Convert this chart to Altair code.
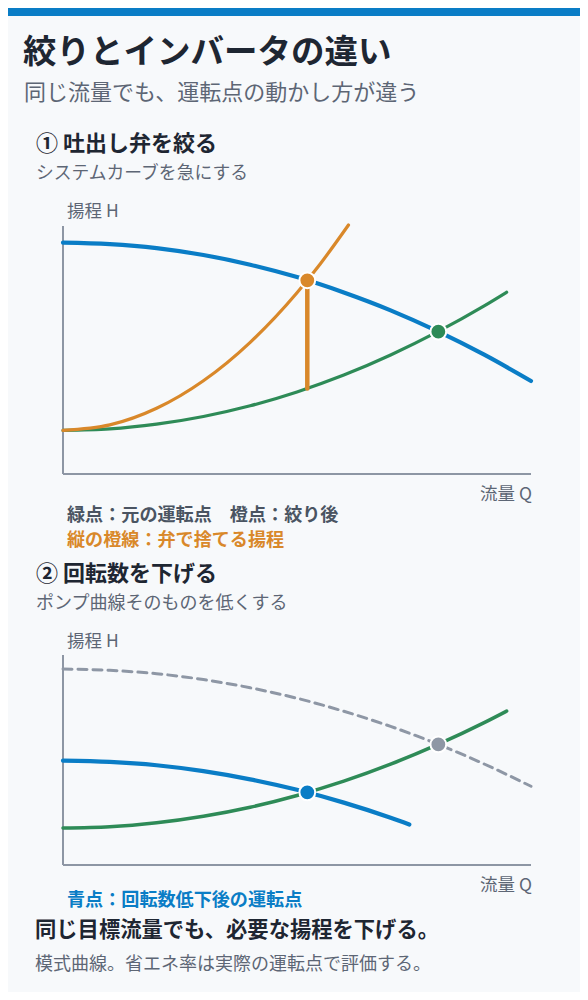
import altair as alt
import pandas as pd

# ---------------- data (schematic units 0-100) ----------------
PUMP_Q = [0, 10, 20, 30, 40, 50, 60, 70, 80, 90, 100]
PUMP_H = [93.3, 92.7, 91.1, 88.3, 84.4, 79.4, 73.2, 66.0, 57.6, 48.1, 37.5]

SYS_Q = [0, 10, 20, 30, 40, 50, 60, 70, 80, 90, 94.8]
SYS_H = [17.6, 18.2, 20.1, 23.2, 27.5, 33.1, 39.9, 48.0, 57.3, 67.8, 73.3]

THROTTLE_Q = [0, 10, 20, 30, 40, 50, 55, 61]
THROTTLE_H = [17.6, 19.8, 26.5, 37.6, 53.1, 73.1, 84.8, 100.4]

REDUCED_Q = [0, 10, 20, 30, 40, 50, 60, 70, 74]
REDUCED_H = [49.7, 49.1, 47.5, 44.7, 40.8, 35.8, 29.7, 22.5, 19.3]

ORIG_POINT = [80.2, 57.4]        # green point (original operating point)
THROTTLE_POINT = [52.2, 78.1]    # orange point (after throttling)
THROTTLE_LOSS = [52.2, 34.5, 78.1]  # q, h from, h to (head wasted by valve)
REDUCED_POINT = [52.2, 34.6]     # blue point (after speed reduction)

AXIS_MAX = [100, 100]

TITLE = "絞りとインバータの違い"
SUBTITLE = "同じ流量でも、運転点の動かし方が違う"
SEC1 = "① 吐出し弁を絞る"
SEC1_SUB = "システムカーブを急にする"
SEC2 = "② 回転数を下げる"
SEC2_SUB = "ポンプ曲線そのものを低くする"
Y_LABEL = "揚程 H"
X_LABEL = "流量 Q"
NOTE1 = "緑点：元の運転点　橙点：絞り後"
NOTE2 = "縦の橙線：弁で捨てる揚程"
NOTE3 = "青点：回転数低下後の運転点"
FOOT1 = "同じ目標流量でも、必要な揚程を下げる。"
FOOT2 = "模式曲線。省エネ率は実際の運転点で評価する。"

# ---------------- styles ----------------
FONT = "Noto Sans CJK JP"
BLUE = "#0a7dc6"
ORANGE = "#d9882a"
GREEN = "#2e8b57"
GRAY = "#8e97a5"
AXIS = "#8d96a4"
DARK = "#1e2632"
MUTED = "#5d6675"
NOTE = "#4a5462"
BG = "#f7f9fb"

W, H = 572, 984

def curve_df(q, h):
    return pd.DataFrame({"q": q, "h": h})

def sx():
    return alt.Scale(domain=[0, AXIS_MAX[0]], range=[55, 523], nice=False, zero=False)

def panel(yrange):
    ys = alt.Scale(domain=[0, AXIS_MAX[1]], range=yrange, nice=False, zero=False)

    def line(q, h, color, width, dash=None):
        kw = dict(color=color, strokeWidth=width, strokeCap="round", interpolate="monotone")
        if dash:
            kw["strokeDash"] = dash
        return alt.Chart(curve_df(q, h)).mark_line(**kw).encode(
            x=alt.X("q:Q", scale=sx(), axis=None),
            y=alt.Y("h:Q", scale=ys, axis=None),
        )

    def point(p, color):
        return alt.Chart(pd.DataFrame({"q": [p[0]], "h": [p[1]]})).mark_circle(
            size=250, color=color, opacity=1, stroke="white", strokeWidth=2
        ).encode(
            x=alt.X("q:Q", scale=sx(), axis=None),
            y=alt.Y("h:Q", scale=ys, axis=None),
        )

    axes = alt.Chart(pd.DataFrame({
        "q": [0, 0], "q2": [AXIS_MAX[0], 0], "h": [0, 0], "h2": [0, AXIS_MAX[1]]
    })).mark_rule(color=AXIS, strokeWidth=2).encode(
        x=alt.X("q:Q", scale=sx(), axis=None), x2="q2:Q",
        y=alt.Y("h:Q", scale=ys, axis=None), y2="h2:Q",
    )
    return ys, line, point, axes

# panel 1: throttling
ys1, line1, point1, axes1 = panel([466, 218])
loss_rule = alt.Chart(pd.DataFrame({
    "q": [THROTTLE_LOSS[0]], "h": [THROTTLE_LOSS[1]], "h2": [THROTTLE_LOSS[2]]
})).mark_rule(color=ORANGE, strokeWidth=4.5, strokeCap="round").encode(
    x=alt.X("q:Q", scale=sx(), axis=None),
    y=alt.Y("h:Q", scale=ys1, axis=None), y2="h2:Q",
)
panel1 = alt.layer(
    axes1,
    line1(SYS_Q, SYS_H, GREEN, 3.2),
    line1(PUMP_Q, PUMP_H, BLUE, 4.2),
    line1(THROTTLE_Q, THROTTLE_H, ORANGE, 3.2),
    loss_rule,
    point1(THROTTLE_POINT, ORANGE),
    point1(ORIG_POINT, GREEN),
)

# panel 2: speed reduction
ys2, line2, point2, axes2 = panel([857, 647])
panel2 = alt.layer(
    axes2,
    line2(PUMP_Q, PUMP_H, GRAY, 3, dash=[9, 6]),
    line2(SYS_Q, SYS_H, GREEN, 3.5),
    line2(REDUCED_Q, REDUCED_H, BLUE, 4.2),
    point2(ORIG_POINT, GRAY),
    point2(REDUCED_POINT, BLUE),
)

one = alt.Data(values=[{"k": 1}])

def label(txt, x, y, size, color, weight="normal", align="left"):
    return alt.Chart(one).mark_text(
        text=txt, align=align, baseline="alphabetic", font=FONT,
        fontSize=size, fontWeight=weight, color=color,
    ).encode(x=alt.value(x), y=alt.value(y))

bar = alt.Chart(one).mark_rect(color=BLUE).encode(
    x=alt.value(0), x2=alt.value(W), y=alt.value(0), y2=alt.value(8)
)

texts = [
    label(TITLE, 15, 54.5, 33.5, DARK, "bold"),
    label(SUBTITLE, 16, 91.5, 22, MUTED),
    label(SEC1, 28, 142.5, 22, DARK, "bold"),
    label(SEC1_SUB, 28, 171, 17.8, MUTED),
    label(Y_LABEL, 59, 209, 17.5, MUTED),
    label(X_LABEL, 524, 492, 17.5, MUTED, align="right"),
    label(NOTE1, 59, 512.5, 18.1, NOTE, "bold"),
    label(NOTE2, 59, 537.5, 18.1, ORANGE, "bold"),
    label(SEC2, 28, 572.5, 22, DARK, "bold"),
    label(SEC2_SUB, 28, 601, 18, MUTED),
    label(Y_LABEL, 59, 639, 17.5, MUTED),
    label(X_LABEL, 524, 882.5, 17.5, MUTED, align="right"),
    label(NOTE3, 59, 897.5, 18.1, BLUE, "bold"),
    label(FOOT1, 27, 929, 21.3, DARK, "bold"),
    label(FOOT2, 27, 961.5, 18, MUTED),
]

chart = alt.layer(bar, panel1, panel2, *texts).resolve_scale(
    x="independent", y="independent"
).properties(
    width=W, height=H, padding=0,
    autosize=alt.AutoSizeParams(type="none"),
).configure(background=BG).configure_view(stroke=None)

chart.save("out.html", embed_options={"renderer": "svg", "actions": False})
